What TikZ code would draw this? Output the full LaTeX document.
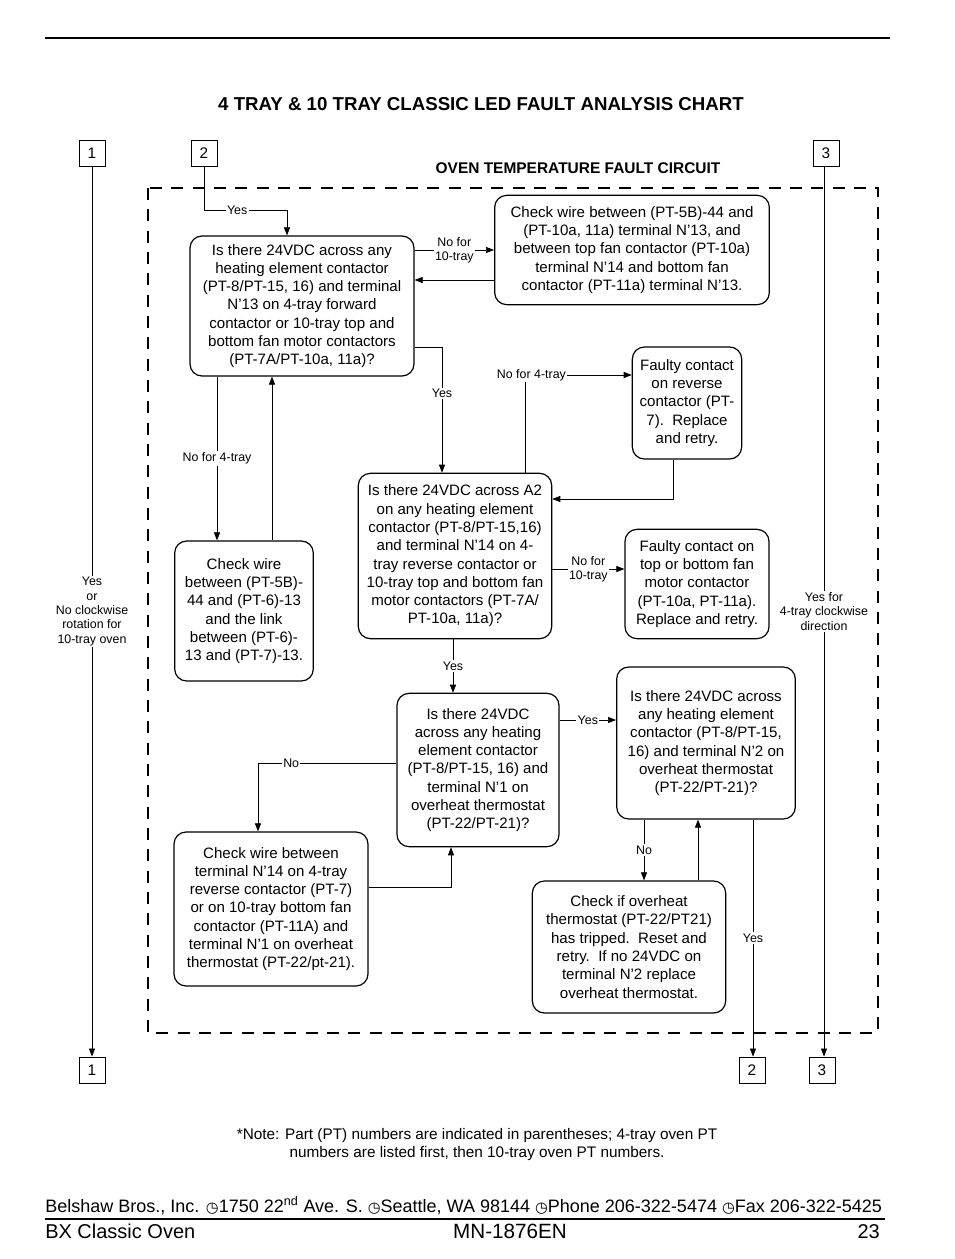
\documentclass[tikz,border=0pt]{standalone}
\usepackage{fontspec}
\setmainfont{Liberation Sans}
\newfontfamily\symfont{DejaVu Sans}
\usepackage{tikz}
\usetikzlibrary{arrows.meta,calc}

\newcommand{\boxfont}{\fontsize{11.3}{13.7}\selectfont}
\newcommand{\lblfont}{\fontsize{9.3}{10.8}\selectfont}
\newcommand{\clk}{{\symfont\fontsize{11}{13}\selectfont ◷}}

\begin{document}
\begin{tikzpicture}[x=0.75pt,y=-0.75pt,
    box/.style={draw, line width=0.9pt, rounded corners=9pt, align=center, inner sep=2pt, font=\boxfont},
    pg/.style={draw, line width=0.7pt, minimum size=19.5pt, inner sep=0pt, font=\fontsize{11.5}{13}\selectfont},
    arr/.style={line width=0.5pt, -{Triangle[length=6pt,width=4.5pt]}},
    lbl/.style={font=\lblfont, fill=white, inner sep=1pt, align=center}]
    \path[use as bounding box, fill=white] (0,0) rectangle (954,1259);

    % page rules and headings
    \draw[line width=0.8pt] (45,38) -- (890,38);
    \draw[line width=0.8pt] (45,1219) -- (885,1219);
    \node (title) at (481,104) {\fontsize{14}{16}\selectfont\bfseries 4 TRAY \& 10 TRAY CLASSIC LED FAULT ANALYSIS CHART};
    \node (circ) at (578,168) {\fontsize{11.6}{13}\selectfont\bfseries OVEN TEMPERATURE FAULT CIRCUIT};

    % off-page connectors
    \node[pg] (n1t) at (92,153) {1};
    \node[pg] (n2t) at (204,153) {2};
    \node[pg] (n3t) at (826,153) {3};
    \node[pg] (n1b) at (92,1070) {1};
    \node[pg] (n2b) at (752,1070) {2};
    \node[pg] (n3b) at (822,1070) {3};

    % circuit boundary
    \draw[line width=1.8pt, dash pattern=on 9pt off 7pt] (148,188) rectangle (878,1033);

    % steps
    \node[box, minimum width=168pt, minimum height=105pt] (A) at (302,306)
        {Is there 24VDC across any\\heating element contactor\\(PT-8/PT-15, 16) and terminal\\N'13 on 4-tray forward\\contactor or 10-tray top and\\bottom fan motor contactors\\(PT-7A/PT-10a, 11a)?};
    \node[box, minimum width=206pt, minimum height=82pt] (B) at (632,250)
        {Check wire between (PT-5B)-44 and\\(PT-10a, 11a) terminal N'13, and\\between top fan contactor (PT-10a)\\terminal N'14 and bottom fan\\contactor (PT-11a) terminal N'13.};
    \node[box, minimum width=82pt, minimum height=84pt] (C) at (687,403)
        {Faulty contact\\on reverse\\contactor (PT-\\7).\ \ Replace\\and retry.};
    \node[box, minimum width=145pt, minimum height=124pt] (D) at (455,556)
        {Is there 24VDC across A2\\on any heating element\\contactor (PT-8/PT-15,16)\\and terminal N'14 on 4-\\tray reverse contactor or\\10-tray top and bottom fan\\motor contactors (PT-7A/\\PT-10a, 11a)?};
    \node[box, minimum width=104pt, minimum height=105pt] (E) at (244,611)
        {Check wire\\between (PT-5B)-\\44 and (PT-6)-13\\and the link\\between (PT-6)-\\13 and (PT-7)-13.};
    \node[box, minimum width=108pt, minimum height=82pt] (F) at (697,584)
        {Faulty contact on\\top or bottom fan\\motor contactor\\(PT-10a, PT-11a).\\Replace and retry.};
    \node[box, minimum width=121.5pt, minimum height=115pt] (G) at (478,770)
        {Is there 24VDC\\across any heating\\element contactor\\(PT-8/PT-15, 16) and\\terminal N'1 on\\overheat thermostat\\(PT-22/PT-21)?};
    \node[box, minimum width=134pt, minimum height=114pt] (H) at (706,743)
        {Is there 24VDC across\\any heating element\\contactor (PT-8/PT-15,\\16) and terminal N'2 on\\overheat thermostat\\(PT-22/PT-21)?};
    \node[box, minimum width=145.5pt, minimum height=115.5pt] (I) at (271,909)
        {Check wire between\\terminal N'14 on 4-tray\\reverse contactor (PT-7)\\or on 10-tray bottom fan\\contactor (PT-11A) and\\terminal N'1 on overheat\\thermostat (PT-22/pt-21).};
    \node[box, minimum width=145pt, minimum height=99pt] (J) at (629,947)
        {Check if overheat\\thermostat (PT-22/PT21)\\has tripped.\ \ Reset and\\retry.\ \ If no 24VDC on\\terminal N'2 replace\\overheat thermostat.};

    % helper points
    \coordinate (b2) at ($(B.west)+(0,30)$);
    \coordinate (d2) at ($(D.east)+(0,13)$);
    \coordinate (g2) at ($(G.east)+(0,-50)$);
    \coordinate (h3) at ($(H.south)+(47,0)$);
    \coordinate (t3) at ($(n3t.south)+(-2,0)$);

    % connectors
    \draw[arr] (n2t.south) |- node[lbl, pos=0.7] {Yes} ($(A.north)+(-15,-25)$) -- ($(A.north)+(-15,0)$);
    \draw[arr] (A.east |- B.west) -- node[lbl] {No for\\10-tray} (B.west);
    \draw[arr] (b2) -- (b2 -| A.east);
    \draw[arr] ($(A.east)+(0,41)$) -| node[lbl, pos=0.685] {Yes} ($(D.north)+(-13,0)$);
    \draw[arr] ($(D.north)+(70,0)$) |- node[lbl, pos=0.53] {No for 4-tray} ($(C.west)+(0,-28)$);
    \draw[arr] ($(C.south)+(-14,0)$) |- ($(D.east)+(0,-57)$);
    \draw[arr] (d2) -- node[lbl] {No for\\10-tray} (d2 -| F.west);
    \draw[arr] ($(A.south)+(-85,0)$) -- node[lbl] {No for 4-tray} ($(E.north)+(-27,0)$);
    \draw[arr] ($(E.north)+(28,0)$) -- ($(A.south)+(-30,0)$);
    \draw[arr] ($(D.south)+(-2,0)$) -- node[lbl] {Yes} ($(G.north)+(-25,0)$);
    \draw[arr] ($(G.west)+(0,-7)$) -| node[lbl, pos=0.38] {No} ($(I.north)+(-13,0)$);
    \draw[arr] ($(I.east)+(0,-22)$) -| ($(G.south)+(-27,0)$);
    \draw[arr] (g2) -- node[lbl] {Yes} (g2 -| H.west);
    \draw[arr] ($(H.south)+(-62,0)$) -- node[lbl] {No} ($(J.north)+(15,0)$);
    \draw[arr] ($(J.north)+(69,0)$) -- ($(H.south)+(-8,0)$);
    \draw[arr] (h3) -- node[lbl] {Yes} (h3 |- n2b.north);
    \draw[arr] (t3) -- node[lbl] {Yes for\\4-tray clockwise\\direction} (t3 |- n3b.north);
    \draw[arr] (n1t) -- node[lbl] {Yes\\or\\No clockwise\\rotation for\\10-tray oven} (n1b);

    % notes and footer
    \node[align=center, font=\fontsize{11.5}{13.5}\selectfont] (note) at (477,1145)
        {*Note: Part (PT) numbers are indicated in parentheses; 4-tray oven PT\\numbers are listed first, then 10-tray oven PT numbers.};
    \node[anchor=base west, inner sep=0pt, font=\fontsize{13.5}{15}\selectfont] (addr) at (45,1212)
        {Belshaw Bros., Inc. \clk1750 22\textsuperscript{nd} Ave. S. \clk Seattle, WA 98144 \clk Phone 206-322-5474 \clk Fax 206-322-5425};
    \node[anchor=base west, inner sep=0pt, font=\fontsize{15}{18}\selectfont] (model) at (45,1238) {BX Classic Oven};
    \node[anchor=base, inner sep=0pt, font=\fontsize{15.5}{18}\selectfont] (doc) at (510,1238) {MN-1876EN};
    \node[anchor=base east, inner sep=0pt, font=\fontsize{15}{18}\selectfont] (pgno) at (880,1238) {23};
\end{tikzpicture}
\end{document}
